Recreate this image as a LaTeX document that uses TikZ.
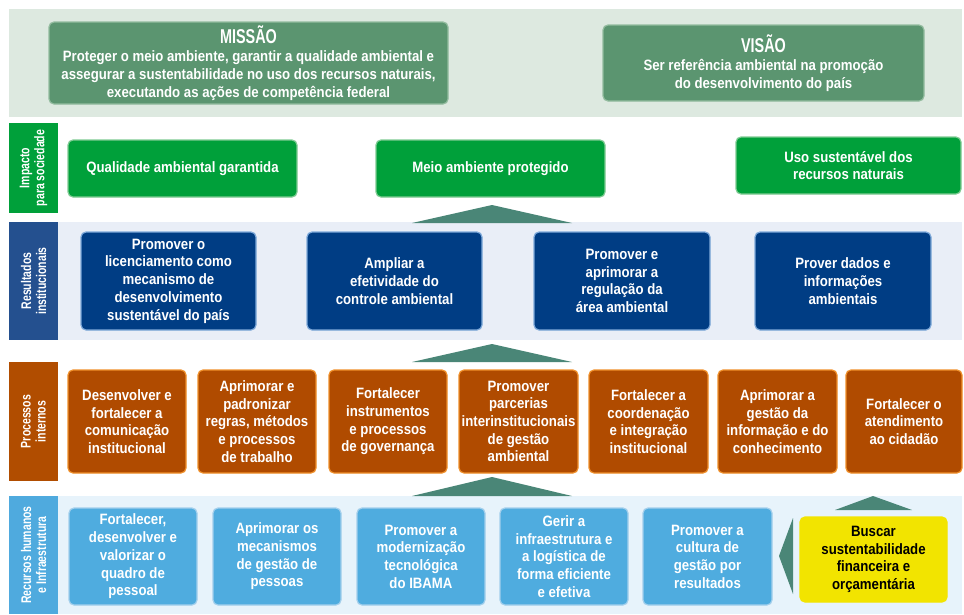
\documentclass[tikz,border=0pt]{standalone}
\usepackage{fontspec}
\setmainfont{Liberation Sans}[FakeStretch=0.88]
\newfontfamily\titlefont{Liberation Sans Bold}[FakeStretch=0.72]
\newfontfamily\labelfont{Liberation Sans Bold}[FakeStretch=0.75]
\definecolor{topband}{HTML}{DDE9E0}
\definecolor{misfill}{HTML}{5B9570}
\definecolor{misline}{HTML}{93BC9F}
\definecolor{impgreen}{HTML}{00A03A}
\definecolor{impline}{HTML}{7FCB93}
\definecolor{teal}{HTML}{4A8677}
\definecolor{resband}{HTML}{E9EEF7}
\definecolor{reslabel}{HTML}{24508F}
\definecolor{resfill}{HTML}{003D84}
\definecolor{resline}{HTML}{7EA9DA}
\definecolor{proclabel}{HTML}{B14D00}
\definecolor{procfill}{HTML}{B04B00}
\definecolor{procline}{HTML}{F0902A}
\definecolor{hrband}{HTML}{E7F3FB}
\definecolor{hrlabel}{HTML}{4FAADE}
\definecolor{hrfill}{HTML}{4FACDF}
\definecolor{hrline}{HTML}{A3CFEC}
\definecolor{yel}{HTML}{F2E400}
\tikzset{
  basebox/.style={rounded corners=5pt, inner sep=0pt, align=center, text=white,
    font=\bfseries\fontsize{15}{17.7}\selectfont, line width=1.2pt},
  misbox/.style={basebox, fill=misfill, draw=misline},
  impbox/.style={basebox, fill=impgreen, draw=impline},
  resbox/.style={basebox, fill=resfill, draw=resline},
  procbox/.style={basebox, fill=procfill, draw=procline},
  hrbox/.style={basebox, fill=hrfill, draw=hrline},
  yelbox/.style={basebox, fill=yel, draw=yel, text=black},
  bandlabel/.style={inner sep=0pt, text=white, align=center,
    font=\labelfont\fontsize{14}{15}\selectfont},
  tri/.style={fill=teal, draw=none}
}
\newcommand\bx[7]{\node[#6, minimum width={#4-#2}, minimum height={#5-#3}] (#1) at ({(#2+#4)/2},{(#3+#5)/2}) {#7};}
\newcommand\lbl[7]{\fill[#6] (#2,#3) rectangle (#4,#5);
  \node[bandlabel, rotate=90] (#1) at ({(#2+#4)/2},{(#3+#5)/2}) {#7};}
\begin{document}
\begin{tikzpicture}[x=1pt,y=-1pt]
\useasboundingbox (0,0) rectangle (964,614);
\fill[white] (0,0) rectangle (964,614);
% bands
\fill[topband] (9,9) rectangle (962,117);
\fill[resband] (58,222) rectangle (962,340);
\fill[hrband] (58,496) rectangle (962,614);
% mission / vision
\bx{mis}{49}{22}{448}{104}{misbox}{{\titlefont\fontsize{20}{20}\selectfont MISSÃO}\\[1pt]Proteger o meio ambiente, garantir a qualidade ambiental e\\assegurar a sustentabilidade no uso dos recursos naturais,\\executando as ações de competência federal}
\bx{vis}{603}{25}{924}{101}{misbox}{{\titlefont\fontsize{20}{20}\selectfont VISÃO}\\[1pt]Ser referência ambiental na promoção\\do desenvolvimento do país}
% impact
\lbl{limp}{9}{123}{58}{213}{impgreen}{Impacto\\para sociedade}
\bx{i1}{68}{140}{297}{197}{impbox}{Qualidade ambiental garantida}
\bx{i2}{376}{140}{605}{197}{impbox}{Meio ambiente protegido}
\bx{i3}{736}{137}{961}{194}{impbox}{Uso sustentável dos\\recursos naturais}
\fill[tri] (412,223) -- (492,205) -- (572,223) -- cycle;
% results
\lbl{lres}{9}{222}{58}{340}{reslabel}{Resultados\\institucionais}
\bx{r1}{81}{232}{256}{330}{resbox}{Promover o\\licenciamento como\\mecanismo de\\desenvolvimento\\sustentável do país}
\bx{r2}{307}{232}{482}{330}{resbox}{Ampliar a\\efetividade do\\controle ambiental}
\bx{r3}{534}{232}{710}{330}{resbox}{Promover e\\aprimorar a\\regulação da\\área ambiental}
\bx{r4}{755}{232}{931}{330}{resbox}{Prover dados e\\informações\\ambientais}
\fill[tri] (412,362) -- (492,344) -- (572,362) -- cycle;
% processes
\lbl{lproc}{9}{362}{58}{481}{proclabel}{Processos\\internos}
\bx{p1}{68}{370}{186}{473}{procbox}{Desenvolver e\\fortalecer a\\comunicação\\institucional}
\bx{p2}{198}{370}{316}{473}{procbox}{Aprimorar e\\padronizar\\regras, métodos\\e processos\\de trabalho}
\bx{p3}{329}{370}{447}{473}{procbox}{Fortalecer\\instrumentos\\e processos\\de governança}
\bx{p4}{459}{370}{578}{473}{procbox}{Promover\\parcerias\\interinstitucionais\\de gestão\\ambiental}
\bx{p5}{589}{370}{708}{473}{procbox}{Fortalecer a\\coordenação\\e integração\\institucional}
\bx{p6}{718}{370}{837}{473}{procbox}{Aprimorar a\\gestão da\\informação e do\\conhecimento}
\bx{p7}{846}{370}{962}{473}{procbox}{Fortalecer o\\atendimento\\ao cidadão}
\fill[tri] (412,496) -- (492,477) -- (572,496) -- cycle;
% human resources
\lbl{lhr}{9}{496}{58}{614}{hrlabel}{Recursos humanos\\e Infraestrutura}
\bx{h1}{69}{508}{197}{605}{hrbox}{Fortalecer,\\desenvolver e\\valorizar o\\quadro de\\pessoal}
\bx{h2}{213}{508}{341}{605}{hrbox}{Aprimorar os\\mecanismos\\de gestão de\\pessoas}
\bx{h3}{357}{508}{485}{605}{hrbox}{Promover a\\modernização\\tecnológica\\do IBAMA}
\bx{h4}{500}{508}{628}{605}{hrbox}{Gerir a\\infraestrutura e\\a logística de\\forma eficiente\\e efetiva}
\bx{h5}{643}{508}{772}{605}{hrbox}{Promover a\\cultura de\\gestão por\\resultados}
\bx{y1}{800}{517}{947}{602}{yelbox}{Buscar\\sustentabilidade\\financeira e\\orçamentária}
\fill[tri] (835,510) -- (873,496) -- (912,510) -- cycle;
\fill[tri] (793,518) -- (779,556) -- (793,594) -- cycle;
\end{tikzpicture}
\end{document}
